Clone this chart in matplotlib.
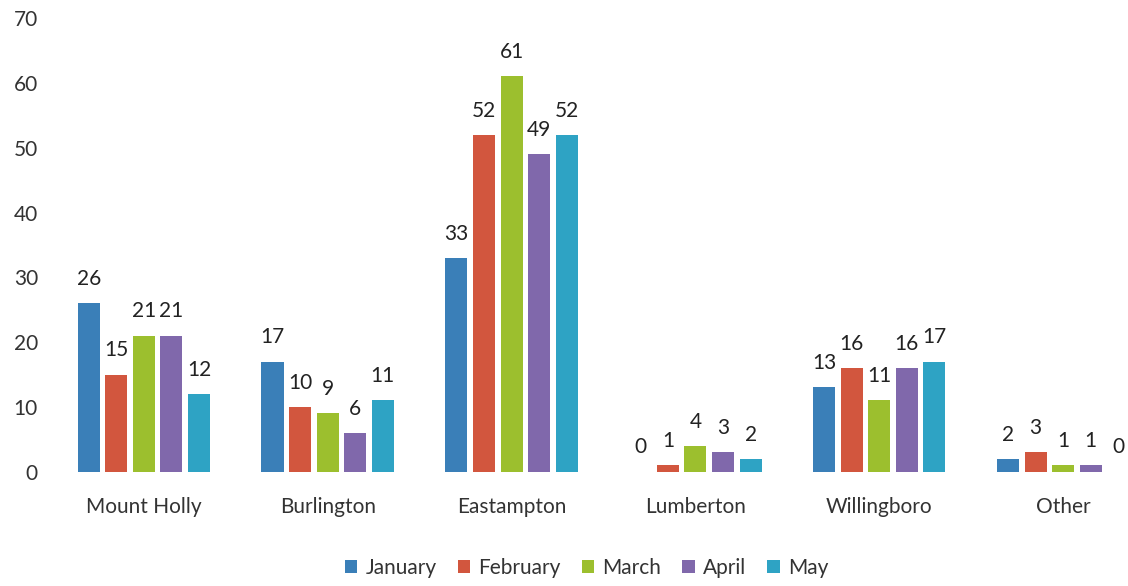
import matplotlib
matplotlib.use("Agg")
import matplotlib.pyplot as plt
import numpy as np

categories = ["Mount Holly", "Burlington", "Eastampton", "Lumberton", "Willingboro", "Other"]
months = ["January", "February", "March", "April", "May"]
january = [26, 17, 33, 0, 13, 2]
february = [15, 10, 52, 1, 16, 3]
march = [21, 9, 61, 4, 11, 1]
april = [21, 6, 49, 3, 16, 1]
may = [12, 11, 52, 2, 17, 0]
series = [january, february, march, april, may]
colors = ["#3a7fb8", "#d2563e", "#9cbf2e", "#8068ab", "#2ea3c4"]

plt.rcParams['font.family'] = ['Lato', 'DejaVu Sans']

fig = plt.figure(figsize=(11.28, 5.86), dpi=100)
ax = fig.add_axes([0.046, 0.195, 0.978, 0.774])

x = np.arange(len(categories))
step = 0.15
width = 0.12
for i, (vals, col, name) in enumerate(zip(series, colors, months)):
    pos = x + (i - 2) * step
    ax.bar(pos, vals, width=width, color=col, label=name)
    for p, v in zip(pos, vals):
        ax.text(p, v + 2.2, str(v), ha="center", va="bottom", fontsize=15, color="#222222")

ax.set_xlim(-0.5, len(categories) - 0.5)
ax.set_ylim(0, 70)
ax.set_yticks(range(0, 71, 10))
ax.set_xticks(x)
ax.set_xticklabels(categories)
ax.tick_params(axis="both", length=0, labelsize=15, colors="#333333")
ax.tick_params(axis="y", pad=10)
ax.tick_params(axis="x", pad=18)
for s in ax.spines.values():
    s.set_visible(False)

fig.legend(loc="lower center", bbox_to_anchor=(0.52, -0.018), ncol=5, frameon=False,
           fontsize=15, handlelength=0.6, handleheight=0.6, handletextpad=0.4,
           columnspacing=1.0, labelcolor="#333333")

fig.savefig("out.png", dpi=100)
